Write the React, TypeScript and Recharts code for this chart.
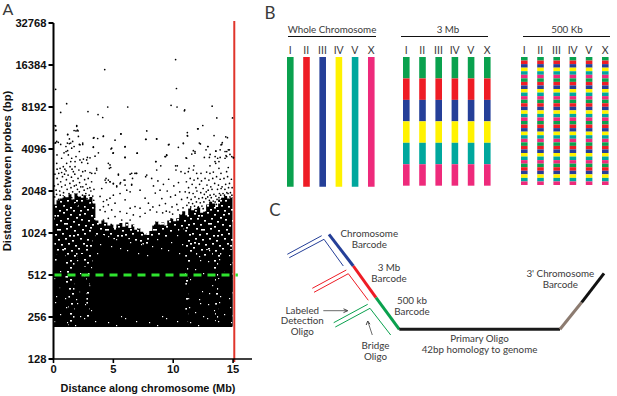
import React from "react";
import { ComposedChart, BarChart, Bar, Cell, Area, Scatter, Line, XAxis, YAxis, ReferenceLine } from "recharts";

// ---------- Panel A: values are [position in Mb, log2 of distance in bp] ----------
const log2Ticks = [7, 8, 9, 10, 11, 12, 13, 14, 15];
const mbTicks = [0, 5, 10, 15];
const cloudBottom = 7.76;

const columnMb = [0,.25,.5,.75,1,1.25,1.5,1.75,2,2.25,2.5,2.75,3,3.25,3.5,3.75,4,4.25,4.5,4.75,5,5.25,5.5,5.75,6,6.25,6.5,6.75,7,7.25,7.5,7.75,8,8.25,8.5,8.75,9,9.25,9.5,9.75,10,10.25,10.5,10.75,11,11.25,11.5,11.75,12,12.25,12.5,12.75,13,13.25,13.5,13.75,14,14.25,14.5,14.75,14.95];
const speckleTop = [10.68,10.78,10.82,10.9,10.85,10.92,10.8,10.95,10.88,10.84,10.9,10.8,10.86,10.7,10.3,10.22,10.3,10.25,10.18,10.22,10.12,10.2,10.24,10.15,10.25,10.12,10.2,10.08,10.12,10.03,10,9.95,10.05,10.2,10.28,10.2,10.25,10.18,10.3,10.35,10.28,10.35,10.45,10.52,10.42,10.6,10.54,10.58,10.62,10.48,10.52,10.68,10.75,10.7,10.62,10.8,10.84,10.88,10.82,10.86,10.65];
const denseTop = [9.2,9.5,9.6,9.5,8.8,7.8,7.8,9.4,9.6,9.5,9.2,7.9,9.3,10,9.9,9.9,9.95,9.9,9.95,9.9,9.85,9.9,9.9,9.85,9.9,9.85,9.85,9.8,9.75,9.75,9.7,9.7,9.8,9.9,9.95,9.9,9.95,9.9,9.95,10,10,10,10.1,10.1,7.9,9.2,9.5,9.4,9.6,9.5,9.4,9.6,9.6,9.1,7.9,9.4,9.6,9.7,9.7,9.6,9.4];
const coreLow = [8.6,8.6,8.7,8.7,8.9,8.9,8.9,8.7,8.6,8.6,8.6,8.6,8.5,8.05,8,8,8,8,8,8,8.05,8.1,8.05,8,8.1,8,8.1,8.3,8.05,8,8,8.1,8.05,8,8,8.1,8.05,8,8,8,8,8,8,8,8.9,8.7,8.6,8.6,8.6,8.7,8.6,8.6,8.7,8.8,8.9,8.7,8.6,8.6,8.6,8.6,8.6];
const coreTop = [8.6,8.9,9,8.9,8.9,8.9,8.9,8.9,9,9,8.6,8.6,8.5,9.3,9.45,9.45,9.5,9.5,9.5,9.5,9.5,9.5,9.5,9.45,9.45,9.45,9.45,9.45,9.45,9.4,9.4,9.4,9.4,9.45,9.5,9.5,9.5,9.5,9.5,9.5,9.5,9.45,9.45,9.4,8.9,8.7,8.9,8.9,9,8.9,8.9,9,9,8.8,8.9,8.9,9,9.1,9.1,9,8.8];

const sparsePoints = [[.18,13.42],[1.1,13.08],[.6,12.87],[2.88,12.89],[3.72,12.82],[4.11,12.75],[4.28,13.89],[4.53,13],[6.2,13],[10.2,14.13],[10.27,13.44],[9.82,13.04],[10.32,13],[10.96,12.93],[13.25,13.02],[13.64,12.74],[14.95,12.74],[.18,12.55],[.18,12.44],[1.94,12.54],[1.88,12.43],[2.05,12.43],[7.79,12.43],[12.47,12.56],[12.08,12.48],[11.18,12.39],[11.18,12.32],[1.18,12.34],[4.16,12.3],[5.64,12.36],[3.38,12.27],[3.69,12.25],[5.14,12.21],[7.7,12.23],[8.62,12.24],[13.41,12.32],[14.39,12.29],[14.53,12.27],[15.03,11.79],[.18,12.15],[.4,12.16],[1.32,12.13],[2.16,12.11],[2.44,12.11],[1.04,12.06],[1.52,12.02],[1.18,11.96],[.29,11.86],[3.33,12.05],[5.97,12.05],[4.8,12],[4.97,11.9],[5.97,11.8],[6.98,11.9],[3.75,11.91],[3.47,11.83],[3.05,11.79],[9.6,12.1],[10.43,12.04],[10.85,12.13],[12.27,12.12],[12.91,12.06],[12.74,11.98],[14.05,12.11],[13.92,11.98],[13.55,11.95],[14.69,11.98],[14.47,11.94],[13.08,11.87],[13.5,11.82],[13.92,11.8],[14.47,11.82],[14.89,11.82],[11.82,11.94],[11.55,11.88],[11.07,11.79],[9.46,11.85],[9.37,11.82],[8.54,11.7],[8.62,11.5],[8.96,11.6],[7.79,11.38],[7.7,11.34],[6.53,11.42],[6.8,11.42],[6.95,11.42],[6.6,11.3],[6.53,11.16],[5.42,11.38],[5.97,11.26],[5.6,11.2],[5,11.18],[5.28,11.12],[4.72,11.62],[4.67,11.54],[4.39,11.3],[4.39,11.2],[4.58,11.26],[4.72,11.22],[3.6,11.54],[3.47,11.42],[3.19,11.42],[2.77,11.74],[2.21,11.74]];

const leftUpperPoints = [[.13,12.56],[.21,12.45],[1.94,12.56],[2,12.45],[1.19,12.35],[1.72,12.44],[2.08,12.3],[1.33,12.24],[1.6,12.18],[.27,12.18],[.13,12.14],[.6,12.11],[1.16,12.14],[1.44,12.14],[2.22,12.1],[2.44,12.14],[3.33,12.26],[4.17,12.31],[5.62,12.36],[7.73,12.23],[3.33,12.04],[5.98,12.06],[4.86,12.02],[5,11.91],[5.98,11.8],[7,11.9],[2.83,11.8],[2.5,11.76],[2.16,11.94],[1.72,12.06],[1.05,11.94],[.88,11.91],[.68,11.78],[.27,11.66],[1.24,11.86],[1.52,11.78],[1.88,11.82],[1.44,11.7],[1.8,11.7],[1.1,11.66],[2.36,11.68],[2.86,11.66],[4.58,11.66],[4.78,11.56],[.55,11.54],[.82,11.58],[1.38,11.58],[1.8,11.58],[1.05,11.48],[.68,11.44],[1.66,11.46],[3.61,11.5],[2.44,11.46],[3.05,11.44],[5.42,11.4],[6.9,11.42]];

const rightUpperPoints = [[10.93,12.91],[12.04,12.48],[11.2,12.31],[8.61,12.24],[9.65,12.11],[10.84,12.14],[12.18,12.14],[14.1,12.15],[13.99,12.1],[12.88,12.06],[14.6,11.98],[14.33,11.94],[13.57,11.95],[11.68,11.96],[11.82,11.9],[14.41,11.84],[14.74,11.87],[15.02,11.8],[11.12,11.78],[12.6,11.8],[13.02,11.8],[13.71,11.78],[14.33,11.78],[9.45,11.86],[9.31,11.82],[8.56,11.7],[13.49,11.7],[13.82,11.7],[13.55,11.66],[13.07,11.6],[11.73,11.6],[10.2,11.6],[10.34,11.6],[10.23,11.5],[10.65,11.46],[10.98,11.42],[11.32,11.54],[11.26,11.46],[11.68,11.5],[11.96,11.42],[12.32,11.42],[12.79,11.45],[13.07,11.42],[13.35,11.45],[13.82,11.54],[13.99,11.42],[14.46,11.46],[14.6,11.56]];

const middlePoints = [[4.31,11.26],[4.72,11.22],[5,11.17],[5.89,11.26],[6.4,11.4],[5.28,11.1],[5.56,11.17],[5.98,11.14],[6.53,11.14],[7.23,11.02],[7.65,10.83],[7.93,10.71],[6.12,11.02],[6.4,10.98],[5,10.9],[5.56,10.94],[4.72,10.83],[4.17,10.75],[4.45,10.79],[4.03,11.06],[3.89,10.87],[5.14,10.71],[4.58,10.67],[5.98,10.79],[6.81,10.63],[6.4,10.59],[7.23,10.59],[5.56,10.51],[4.86,10.55],[4.31,10.51],[4.17,10.63],[3.89,10.55],[5.14,10.39],[6.12,10.47],[6.67,10.43],[7.65,10.47],[8.07,10.55],[5.7,10.31],[4.58,10.35],[4.17,10.31],[7.23,10.39],[6.4,10.31],[8.2,11.3],[8.35,11.12],[8.5,10.95],[8.72,11.24],[8.9,11.02],[9.05,10.82],[9.18,11.16],[9.35,10.7],[9.5,11],[9.62,11.28],[9.78,10.86],[9.9,10.62],[10.05,11.12],[10.18,10.9],[10.3,10.68],[10.44,11.2],[10.55,10.98],[10.7,10.8],[8.3,10.62],[8.62,10.5],[8.85,10.66],[9.12,10.48],[9.42,10.52],[9.7,10.5],[9.95,10.45],[10.4,10.55]];

const leftClusterPoints = [[.12,11.4],[.3,11.3],[.44,11.42],[.6,11.22],[.75,11.34],[.92,11.4],[1.08,11.27],[1.22,11.38],[1.37,11.18],[1.5,11.33],[1.64,11.24],[1.78,11.4],[1.9,11.14],[2.05,11.3],[2.18,11.2],[2.3,11.36],[2.45,11.1],[2.6,11.27],[2.72,11.16],[2.9,11.3],[3.04,11.08],[3.18,11.22],[.08,11.12],[.22,11.02],[.38,11.16],[.52,11],[.68,11.1],[.84,10.96],[.98,11.14],[1.14,11.04],[1.3,10.94],[1.46,11.08],[1.6,10.98],[1.74,11.12],[1.88,10.92],[2,11.04],[2.16,10.98],[2.28,11.1],[2.42,10.9],[2.56,11.02],[2.7,10.94],[2.84,11.06],[2.98,10.9],[3.12,11],[3.28,10.88],[3.38,11.04],[.1,10.86],[.26,10.92],[.42,10.8],[.56,10.9],[.72,10.78],[.9,10.86],[1.04,10.76],[1.2,10.82],[1.35,10.74],[1.52,10.84],[1.68,10.78],[1.82,10.7],[1.98,10.82],[2.12,10.74],[2.24,10.84],[2.38,10.72],[2.52,10.8],[2.66,10.7],[2.8,10.82],[2.94,10.74],[3.08,10.8],[3.22,10.7],[3.36,10.78],[.5,10.72],[.82,10.68],[1.1,10.66],[2.02,10.65],[2.74,10.62],[.3,11.52],[.95,11.52],[1.55,11.52],[2.12,11.5],[2.65,11.48],[3.42,10.62]];

const rightClusterPoints = [[11.1,11.22],[11.28,11.08],[11.42,11.3],[11.58,11.16],[11.74,11.26],[11.9,11.08],[12.05,11.3],[12.2,11.16],[12.36,11.24],[12.5,11.06],[12.66,11.3],[12.82,11.14],[12.98,11.26],[13.14,11.1],[13.3,11.3],[13.46,11.18],[13.62,11.34],[13.78,11.14],[13.92,11.28],[14.08,11.1],[14.24,11.3],[14.38,11.16],[14.54,11.34],[14.7,11.18],[14.86,11.28],[11,10.98],[11.18,10.84],[11.34,10.96],[11.5,10.8],[11.66,10.94],[11.82,10.86],[11.98,11],[12.14,10.82],[12.3,10.96],[12.44,10.84],[12.6,10.92],[12.76,10.98],[12.92,11.02],[13.08,10.9],[13.24,11.04],[13.4,10.92],[13.56,10.88],[13.7,11.04],[13.86,10.94],[14,11.06],[14.16,10.94],[14.32,11.04],[14.48,10.96],[14.62,11.08],[14.78,10.96],[14.92,11.08],[11.14,10.66],[11.3,10.72],[11.46,10.62],[11.62,10.7],[11.78,10.64],[11.94,10.74],[12.1,10.62],[12.26,10.72],[12.4,10.64],[12.56,10.74],[12.72,10.82],[12.88,10.86],[13.02,10.78],[13.18,10.84],[13.34,10.76],[13.5,10.74],[13.66,10.8],[13.82,10.84],[13.96,10.9],[14.12,10.82],[14.28,10.9],[14.44,10.84],[14.58,10.94],[14.74,10.86],[14.9,10.9],[12,10.56],[12.5,10.58],[10.82,10.6],[13.6,10.68]];

const toPoints = (list) => list.map(([mb, log2]) => ({ mb, log2 }));
const allPoints = [sparsePoints, leftUpperPoints, rightUpperPoints, middlePoints, leftClusterPoints, rightClusterPoints].flatMap(toPoints);
const columns = columnMb.map((mb, i) => ({
  mb,
  speckle: [cloudBottom, speckleTop[i]],
  dense: [cloudBottom, denseTop[i]],
  core: [coreLow[i], coreTop[i]],
}));

// Texture tiles for the parts of the cloud too dense to read dot by dot
const speckleFlecks = [[2,1],[9,3],[15,0],[22,2],[28,5],[36,1],[43,3],[5,6],[12,8],[19,6],[25,9],[33,7],[40,8],[46,6],[1,11],[8,12],[16,11],[22,14],[30,12],[37,13],[44,12],[4,16],[11,17],[18,16],[26,18],[34,17],[41,18],[0,21],[7,22],[14,21],[21,23],[29,22],[36,21],[45,22],[3,26],[10,27],[17,26],[24,28],[32,26],[39,27],[44,28],[6,31],[13,32],[20,31],[27,33],[35,31],[42,33],[1,35],[9,37],[16,36],[23,38],[30,36],[38,37],[46,38],[4,41],[12,42],[19,41],[26,43],[33,41],[41,43],[0,46],[7,47],[15,46],[22,48],[29,46],[36,47],[44,48],[3,51],[11,51],[18,50],[25,51],[32,51],[39,50],[6,3],[31,2],[18,11],[42,15],[25,23],[9,17],[38,33],[14,37],[28,41],[2,30],[46,31]];
const denseFlecks = [[3,3],[14,1],[25,6],[36,2],[9,9],[19,13],[31,11],[39,15],[2,17],[13,20],[26,21],[34,24],[7,27],[18,29],[29,31],[38,33],[4,35],[15,38],[24,40],[35,41]];

// ---------- Panel B ----------
const chromosomes = ["I", "II", "III", "IV", "V", "X"];
const barcodeColours = ["#0aa14e", "#ee1c25", "#253f98", "#fff200", "#00a79d", "#ee2a7b"];
const threeMbSegments = [0, 1, 2, 3, 4, 5];
const fiveHundredKbSegments = [0,1,2,3,4,5,6,7,8,9,10,11,12,13,14,15,16,17,18,19,20,21,22,23,24,25,26,27,28,29,30,31,32,33,34,35];
const segmentRow = (name, segments) => {
  const row = { name, whole: 1 };
  segments.forEach((s) => { row["s" + s] = 1; });
  return row;
};
const wholeRows = chromosomes.map((c) => segmentRow(c, []));
const threeMbRows = chromosomes.map((c) => segmentRow(c, threeMbSegments));
const fiveHundredRows = chromosomes.map((c) => segmentRow(c, fiveHundredKbSegments));

// ---------- Panel C: schematic paths in page units ----------
const pt = (list) => list.map(([x, y]) => ({ x, y }));
const primaryBlue = pt([[329,234.3],[353.3,266]]);
const primaryRed = pt([[353.3,266],[376,297.7]]);
const primaryGreen = pt([[376,297.7],[399.3,329.3]]);
const primaryBody = pt([[399.3,329.3],[560,329.3]]);
const primaryTail = pt([[560,329.3],[581.7,302.3]]);
const primaryEnd = pt([[581.7,302.3],[604,273.3]]);
const detectBlue = pt([[287.3,254.3],[321.7,235.7]]);
const bridgeBlue = pt([[289.3,257.7],[324,239.3],[343.3,266]]);
const detectRed = pt([[312.3,288.3],[346.3,270]]);
const bridgeRed = pt([[314,292.3],[348.3,273.7],[368.3,300.3]]);
const detectGreen = pt([[333.7,322.7],[367.7,304.3]]);
const bridgeGreen = pt([[335.3,327],[370,308.3],[390.7,335]]);
const arrowLabeled = pt([[323.3,310.7],[347.7,310.7]]);
const arrowLabeledHead = pt([[343.5,308.8],[347.7,310.7],[343.5,312.6]]);
const arrowBridge = pt([[372.3,335],[367.7,321]]);
const arrowBridgeHead = pt([[366.2,325],[367.7,321],[370,324.2]]);

const schemeSeries = [
  [primaryBlue, "#253f98", 3], [primaryRed, "#ee1c25", 3], [primaryGreen, "#0aa14e", 3],
  [primaryBody, "#1a1a1a", 3], [primaryTail, "#8c7b70", 3], [primaryEnd, "#111111", 3],
  [detectBlue, "#253f98", 1], [bridgeBlue, "#253f98", 1],
  [detectRed, "#ee1c25", 1], [bridgeRed, "#ee1c25", 1],
  [detectGreen, "#0aa14e", 1], [bridgeGreen, "#0aa14e", 1],
  [arrowLabeled, "#444444", 0.8], [arrowLabeledHead, "#444444", 1],
  [arrowBridge, "#444444", 0.8], [arrowBridgeHead, "#444444", 1],
];

const labelFont = "Lato, 'Open Sans', sans-serif";
const axisFont = "'Liberation Sans', Arial, sans-serif";

const T = ({ x, y, size = 9.8, weight = 400, font = labelFont, color = "#3a3a3a", rotate = 0, children }) => (
  <div style={{ position: "absolute", left: x, top: y, transform: `translate(-50%,-50%) rotate(${rotate}deg)`, fontFamily: font, fontSize: size, fontWeight: weight, color, whiteSpace: "pre", lineHeight: "10.7px", textAlign: "center" }}>{children}</div>
);
const Rule = ({ x1, x2, y }) => (
  <div style={{ position: "absolute", left: x1, top: y, width: x2 - x1, height: 1.2, background: "#111" }} />
);

const Dot = (props) => <circle cx={props.cx} cy={props.cy} r={0.85} fill="#000" />;

const catTick = { fontSize: 10.5, fontFamily: labelFont, fill: "#3a3a3a" };

const BarPanel = ({ left, rows, keys, colourOf, whole, bottom }) => (
  <div style={{ position: "absolute", left, top: 38 }}>
    <BarChart width={97.2} height={bottom - 38} data={rows} margin={{ top: 0, right: 0, bottom: 0, left: 0 }} barSize={6.6}>
      <XAxis dataKey="name" orientation="top" height={19} axisLine={false} tickLine={false} tickSize={0} tick={catTick} tickMargin={3} interval={0} />
      <YAxis hide type="number" domain={[0, keys.length]} reversed />
      {whole
        ? <Bar dataKey="whole" isAnimationActive={false}>
            {rows.map((r, i) => <Cell key={r.name} fill={barcodeColours[i]} />)}
          </Bar>
        : keys.map((k, i) => <Bar key={k} dataKey={k} stackId="a" fill={colourOf(i)} isAnimationActive={false} />)}
    </BarChart>
  </div>
);

export default function App() {
  return (
    <div style={{ position: "absolute", left: 0, top: 0, width: 617, height: 396, background: "#fff", overflow: "hidden" }}>
      <div style={{ position: "absolute", left: 0, top: 0 }}>
        <ComposedChart width={617} height={396} data={columns} margin={{ top: 23, right: 365, bottom: 0, left: 0 }}>
          <defs>
            <pattern id="speckle" width="48" height="53" patternUnits="userSpaceOnUse">
              <rect width="48" height="53" fill="#000" />
              {speckleFlecks.map(([x, y], i) => <rect key={i} x={x} y={y} width="2" height="1.6" fill="#fff" />)}
            </pattern>
            <pattern id="dense" width="41" height="43" patternUnits="userSpaceOnUse">
              <rect width="41" height="43" fill="#000" />
              {denseFlecks.map(([x, y], i) => <rect key={i} x={x} y={y} width="1.2" height="1.2" fill="#fff" />)}
            </pattern>
          </defs>
          <XAxis dataKey="mb" type="number" domain={[0, 16.58]} ticks={mbTicks} height={37} stroke="#000" strokeWidth={1.6}
            tickSize={4} tick={{ fontSize: 11.2, fontWeight: 700, fontFamily: axisFont, fill: "#111" }} interval={0} />
          <YAxis dataKey="log2" type="number" domain={[7, 15]} ticks={log2Ticks} width={53.5} stroke="#000" strokeWidth={2}
            tickSize={5} tickFormatter={(v) => String(Math.pow(2, v))} tick={{ fontSize: 11.2, fontWeight: 700, fontFamily: axisFont, fill: "#111" }} interval={0} />
          <Area dataKey="speckle" type="stepAfter" stroke="none" fill="url(#speckle)" fillOpacity={1} isAnimationActive={false} dot={false} activeDot={false} />
          <Area dataKey="dense" type="stepAfter" stroke="none" fill="url(#dense)" fillOpacity={1} isAnimationActive={false} dot={false} activeDot={false} />
          <Area dataKey="core" type="stepAfter" stroke="none" fill="#000" fillOpacity={1} isAnimationActive={false} dot={false} activeDot={false} />
          <Scatter data={allPoints} dataKey="log2" shape={Dot} isAnimationActive={false} />
          <ReferenceLine segment={[{ x: 15.1, y: 6.93 }, { x: 15.1, y: 15.05 }]} stroke="#e0352b" strokeWidth={2} ifOverflow="visible" />
          <ReferenceLine segment={[{ x: 0, y: 9 }, { x: 15.4, y: 9 }]} stroke="#2fe42f" strokeWidth={3} strokeDasharray="8 6" ifOverflow="visible" />
        </ComposedChart>
      </div>

      <BarPanel left={282.2} rows={wholeRows} keys={["whole"]} whole bottom={186.7} />
      <BarPanel left={398.2} rows={threeMbRows} keys={threeMbSegments.map((s) => "s" + s)} colourOf={(i) => barcodeColours[i]} bottom={185.7} />
      <BarPanel left={515.6} rows={fiveHundredRows} keys={fiveHundredKbSegments.map((s) => "s" + s)} colourOf={(i) => barcodeColours[i % 6]} bottom={185} />

      <div style={{ position: "absolute", left: 0, top: 0 }}>
        <ComposedChart width={617} height={396} margin={{ top: 0, right: 0, bottom: 0, left: 0 }}>
          <XAxis hide dataKey="x" type="number" domain={[0, 617]} />
          <YAxis hide dataKey="y" type="number" domain={[0, 396]} reversed />
          {schemeSeries.map(([data, colour, width], i) => (
            <Line key={i} data={data} dataKey="y" stroke={colour} strokeWidth={width} dot={false} activeDot={false} isAnimationActive={false} />
          ))}
        </ComposedChart>
      </div>

      <T x={8} y={9} size={16}>A</T>
      <T x={270} y={13} size={17}>B</T>
      <T x={275} y={210} size={17}>C</T>

      <T x={7} y={171} rotate={-90} size={11.3} weight={700} font={axisFont} color="#111">Distance between probes (bp)</T>
      <T x={148} y={388} size={10.9} weight={700} font={axisFont} color="#111">Distance along chromosome (Mb)</T>

      <T x={332} y={29}>Whole Chromosome</T>
      <T x={448} y={29}>3 Mb</T>
      <T x={567} y={29}>500 Kb</T>
      <Rule x1={288} x2={376} y={35.5} />
      <Rule x1={401} x2={488} y={35.5} />
      <Rule x1={523} x2={610} y={35.5} />

      <T x={369.3} y={239}>{"Chromosome\nBarcode"}</T>
      <T x={389} y={273}>{"3 Mb\nBarcode"}</T>
      <T x={412} y={306}>{"500 kb\nBarcode"}</T>
      <T x={302.3} y={320.7}>{"Labeled\nDetection\nOligo"}</T>
      <T x={375.5} y={351.2}>{"Bridge\nOligo"}</T>
      <T x={479.5} y={343.8}>{"Primary Oligo\n42bp homology to genome"}</T>
      <T x={560.3} y={279.3}>{"3' Chromosome\nBarcode"}</T>
    </div>
  );
}
